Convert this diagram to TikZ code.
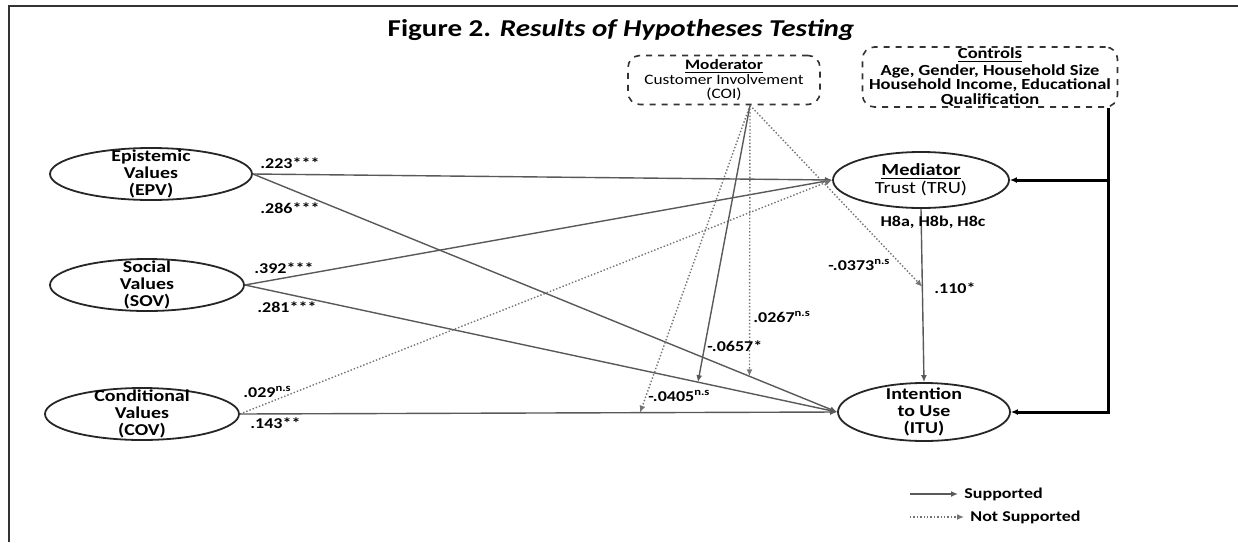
\documentclass[tikz,border=0pt]{standalone}
\usepackage{fontspec}
\setmainfont{Carlito}[FakeStretch=1.2]
\usetikzlibrary{shapes.geometric,arrows.meta,calc}

\tikzset{
  val/.style={ellipse, draw=black!85, line width=0.9pt, minimum width=99pt, minimum height=26pt, inner sep=0pt},
  valtxt/.style={align=center, inner sep=0pt, font=\fontsize{8.3}{8.6}\selectfont\bfseries},
  dbox/.style={draw=black!80, dashed, line width=0.8pt, rounded corners=6pt, align=center, inner sep=0pt},
  supp/.style={draw=black!65, line width=0.7pt, -{Latex[length=3.5pt,width=3pt]}},
  nsupp/.style={draw=black!55, line width=0.7pt, densely dotted, -{Latex[length=3.5pt,width=3pt]}},
  ctl/.style={draw=black, line width=1.5pt, -{Latex[length=3.5pt,width=3pt]}},
  coef/.style={font=\fontsize{7.5}{9}\selectfont\bfseries, inner sep=0pt, anchor=west}
}

\begin{document}
\begin{tikzpicture}[x=0.5pt,y=-0.5pt]
  \useasboundingbox (0,0) rectangle (1238,542);
  \draw[line width=1.3pt,black!80] (9,542) -- (9,6) -- (1238,6);
  \node[font=\fontsize{12.1}{15}\selectfont\bfseries] (title) at (621,30) {Figure 2. \textit{Results of Hypotheses Testing}};

  \node[dbox, minimum width=96pt, minimum height=24.5pt, font=\fontsize{7.2}{7.4}\selectfont] (moder) at (724,80) {\textbf{\underline{Moderator}}\\Customer Involvement\\(COI)};
  \node[dbox, minimum width=127.5pt, minimum height=30pt, font=\fontsize{7.7}{7.4}\selectfont\bfseries] (ctrl) at (990,77) {\underline{Controls}\\Age, Gender, Household Size\\Household Income, Educational\\Qualification};

  \node[val, minimum width=101pt, label={[valtxt]center:Epistemic\\Values\\(EPV)}] (epv) at (151,174) {};
  \node[val, minimum width=97pt, label={[valtxt]center:Social\\Values\\(SOV)}] (sov) at (147,285) {};
  \node[val, minimum width=97pt, label={[valtxt]center:Conditional\\Values\\(COV)}] (cov) at (142,414) {};
  \node[val, minimum width=88pt, minimum height=28pt, label={[valtxt, font=\fontsize{8.5}{9}\selectfont\bfseries]center:\underline{Mediator}\\{\mdseries Trust (TRU)}}] (tru) at (921,180) {};
  \node[val, minimum width=86pt, minimum height=29pt, label={[valtxt]center:Intention\\to Use\\(ITU)}] (itu) at (924,412) {};

  \draw[supp] (epv.east) -- (tru.west);
  \draw[supp] (epv.east) -- (itu.west);
  \draw[supp] (sov.east) -- (tru.west);
  \draw[supp] (sov.east) -- (itu.west);
  \draw[nsupp] (cov.east) -- (tru.west);
  \draw[supp] (cov.east) -- (itu.west);
  \draw[supp] (tru.south) -- (itu.north);

  \coordinate (m0) at ([xshift=13pt]moder.south);
  \coordinate (m1) at ($(tru.south)!0.45!(itu.north)$);
  \coordinate (m2) at ($(epv.east)!0.85!(itu.west)$);
  \coordinate (m3) at ($(sov.east)!0.765!(itu.west)$);
  \coordinate (m4) at ($(cov.east)!0.67!(itu.west)$);
  \draw[nsupp] (m0) -- (m1);
  \draw[nsupp] (m0) -- (m2);
  \draw[supp] (m0) -- (m3);
  \draw[nsupp] (m0) -- (m4);

  \coordinate (c0) at ([xshift=59pt]ctrl.south);
  \draw[ctl] (c0) |- (itu.east);
  \draw[ctl] (c0 |- tru.east) -- (tru.east);

  \node[coef] (b1) at (260,163) {.223***};
  \node[coef] (b2) at (260,208) {.286***};
  \node[coef] (b3) at (254,268) {.392***};
  \node[coef] (b4) at (257,307) {.281***};
  \node[coef] (b5) at (243,392) {.029\textsuperscript{n.s}};
  \node[coef] (b6) at (250,423) {.143**};
  \node[coef, anchor=center] (h8) at (933,222) {H8a, H8b, H8c};
  \node[coef] (b7) at (828,265) {-.0373\textsuperscript{n.s}};
  \node[coef] (b8) at (934,288) {.110*};
  \node[coef] (b9) at (753,317) {.0267\textsuperscript{n.s}};
  \node[coef] (b10) at (707,346) {-.0657*};
  \node[coef] (b11) at (648,396) {-.0405\textsuperscript{n.s}};

  \node[coef] (lg1) at (964,494) {Supported};
  \node[coef] (lg2) at (970,517) {Not Supported};
  \coordinate (s1) at (910,494);
  \coordinate (s2) at (910,517);
  \draw[supp] (s1) -- ([xshift=-3pt]lg1.west);
  \draw[nsupp] (s2) -- ([xshift=-3pt]lg2.west);
\end{tikzpicture}
\end{document}
